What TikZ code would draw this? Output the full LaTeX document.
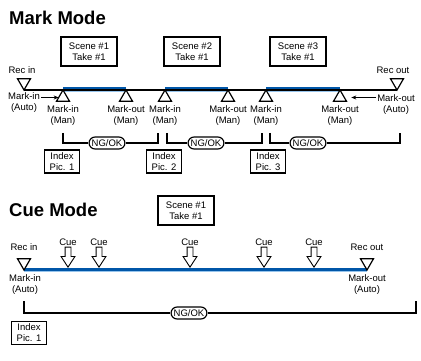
\documentclass[tikz,border=0pt]{standalone}
\usepackage{fontspec}
\setmainfont{Liberation Sans}
\usetikzlibrary{shapes.misc, shapes.geometric, shapes.arrows, arrows.meta}

\definecolor{tapeblue}{RGB}{0,86,168}
\definecolor{tapelight}{RGB}{150,196,236}

\tikzset{
  lbl/.style={align=center, inner sep=1pt, font=\fontsize{9.5}{11}\selectfont},
  title/.style={anchor=west, inner sep=0pt, font=\fontsize{18.5}{20}\selectfont\bfseries},
  scenebox/.style={lbl, draw, line width=1.3pt, minimum width=56pt, minimum height=29pt},
  indexbox/.style={lbl, draw, line width=1.3pt, minimum width=35pt, minimum height=23pt},
  ngok/.style={rounded rectangle, draw, line width=1.2pt, inner xsep=1.5pt, inner ysep=1pt,
    minimum height=12pt, font=\fontsize{9.5}{11}\selectfont},
  markup/.style={regular polygon, regular polygon sides=3, draw, fill=white, line width=1.2pt,
    minimum size=15pt, inner sep=0pt, outer sep=0pt, anchor=corner 1},
  markdown/.style={markup, shape border rotate=180},
  cuearrow/.style={single arrow, draw, fill=white, line width=0.9pt, shape border rotate=270,
    anchor=tip, inner sep=2.5pt, minimum width=13pt, minimum height=20pt,
    single arrow head extend=4pt, single arrow tip angle=66},
  tape/.style={draw=tapeblue, line width=3pt},
  tapelow/.style={draw=tapelight, line width=1.2pt},
  bracket/.style={line width=1.2pt},
  pointer/.style={-{Stealth[length=5pt,width=4pt]}, line width=0.8pt},
}

\begin{document}
\begin{tikzpicture}[x=1pt, y=-1pt]
  \useasboundingbox (0,0) rectangle (421,361);

  % ---------------- Mark Mode ----------------
  \node[title] (marktitle) at (9,18) {Mark Mode};

  % Scene boxes
  \node[scenebox] (scene1) at (89,51.5) {Scene \#1\\Take \#1};
  \node[scenebox] (scene2) at (192,51.5) {Scene \#2\\Take \#1};
  \node[scenebox] (scene3) at (298,51.5) {Scene \#3\\Take \#1};

  % Marker points on the tape
  \coordinate (recin) at (24,90);
  \coordinate (recout) at (397,90);
  \coordinate (mi1) at (63,90);
  \coordinate (mo1) at (126,90);
  \coordinate (mi2) at (165,90);
  \coordinate (mo2) at (228,90);
  \coordinate (mi3) at (266,90);
  \coordinate (mo3) at (340,90);

  % Tape line and recorded takes
  \draw[line width=1.1pt] (recin) -- (recout);
  \draw[tape] ([yshift=1.3pt]mi1) -- ([yshift=1.3pt]mo1);
  \draw[tapelow] ([yshift=-1.1pt]mi1) -- ([yshift=-1.1pt]mo1);
  \draw[tape] ([yshift=1.3pt]mi2) -- ([yshift=1.3pt]mo2);
  \draw[tapelow] ([yshift=-1.1pt]mi2) -- ([yshift=-1.1pt]mo2);
  \draw[tape] ([yshift=1.3pt]mi3) -- ([yshift=1.3pt]mo3);
  \draw[tapelow] ([yshift=-1.1pt]mi3) -- ([yshift=-1.1pt]mo3);
  \draw[line width=1.1pt] (recin) -- (recout);

  % Triangles
  \node[markdown] (recinm) at (recin) {};
  \node[markdown] (recoutm) at (recout) {};
  \node[markup] (mi1m) at (mi1) {};
  \node[markup] (mo1m) at (mo1) {};
  \node[markup] (mi2m) at (mi2) {};
  \node[markup] (mo2m) at (mo2) {};
  \node[markup] (mi3m) at (mi3) {};
  \node[markup] (mo3m) at (mo3) {};

  % Labels
  \node[lbl] (recinl) at (22,70) {Rec in};
  \node[lbl] (recoutl) at (393,70) {Rec out};
  \node[lbl] (mial) at (24,103) {Mark-in\\(Auto)};
  \node[lbl] (moal) at (396,105) {Mark-out\\(Auto)};
  \node[lbl] (mi1l) at (63,115.5) {Mark-in\\(Man)};
  \node[lbl] (mo1l) at (126,115.5) {Mark-out\\(Man)};
  \node[lbl] (mi2l) at (165,115.5) {Mark-in\\(Man)};
  \node[lbl] (mo2l) at (228,115.5) {Mark-out\\(Man)};
  \node[lbl] (mi3l) at (266,115.5) {Mark-in\\(Man)};
  \node[lbl] (mo3l) at (340,115.5) {Mark-out\\(Man)};
  \draw[pointer] (mial.east |- mi1m.west) -- (mi1m.west);
  \draw[pointer, shorten >=7pt] (moal.west |- mo3m.east) -- (mo3m.east);

  % NG/OK brackets
  \coordinate (b1a) at (63,133);
  \coordinate (b1b) at (158,133);
  \coordinate (b2a) at (167,133);
  \coordinate (b2b) at (262,133);
  \coordinate (b3a) at (270,133);
  \coordinate (b3b) at (400,133);
  \node[ngok] (ng1) at (107,143) {NG/OK};
  \node[ngok] (ng2) at (206,143) {NG/OK};
  \node[ngok] (ng3) at (308,143) {NG/OK};
  \draw[bracket] (b1a) |- (ng1) -| (b1b);
  \draw[bracket] (b2a) |- (ng2) -| (b2b);
  \draw[bracket] (b3a) |- (ng3) -| (b3b);

  % Index pictures
  \node[indexbox] (idx1) at (62,161.5) {Index\\Pic. 1};
  \node[indexbox] (idx2) at (164,161.5) {Index\\Pic. 2};
  \node[indexbox] (idx3) at (268,161.5) {Index\\Pic. 3};

  % ---------------- Cue Mode ----------------
  \node[title] (cuetitle) at (9,210) {Cue Mode};
  \node[scenebox] (cuescene) at (186,210.5) {Scene \#1\\Take \#1};

  % Tape
  \coordinate (cin) at (24,270);
  \coordinate (cout) at (367,270);
  \draw[tape] ([yshift=0.7pt]cin) -- ([yshift=0.7pt]cout);
  \draw[tapelow] ([yshift=-1.5pt]cin) -- ([yshift=-1.5pt]cout);
  \node[markdown] (cinm) at (cin) {};
  \node[markdown] (coutm) at (cout) {};

  % Cue points
  \node[cuearrow] (cue1) at (68,268) {};
  \node[cuearrow] (cue2) at (99,268) {};
  \node[cuearrow] (cue3) at (190,268) {};
  \node[cuearrow] (cue4) at (264,268) {};
  \node[cuearrow] (cue5) at (314,268) {};
  \node[lbl] (cue1l) at (68,242) {Cue};
  \node[lbl] (cue2l) at (99,242) {Cue};
  \node[lbl] (cue3l) at (190,242) {Cue};
  \node[lbl] (cue4l) at (264,242) {Cue};
  \node[lbl] (cue5l) at (314,242) {Cue};

  % Labels
  \node[lbl] (cinl) at (24,247) {Rec in};
  \node[lbl] (coutl) at (367,247) {Rec out};
  \node[lbl] (cmil) at (25,284.5) {Mark-in\\(Auto)};
  \node[lbl] (cmol) at (367,285) {Mark-out\\(Auto)};

  % NG/OK bracket
  \coordinate (cba) at (24,301);
  \coordinate (cbb) at (416,301);
  \node[ngok] (cng) at (189,313) {NG/OK};
  \draw[bracket] (cba) |- (cng) -| (cbb);

  % Index picture
  \node[indexbox] (cidx) at (29,333) {Index\\Pic. 1};
\end{tikzpicture}
\end{document}
